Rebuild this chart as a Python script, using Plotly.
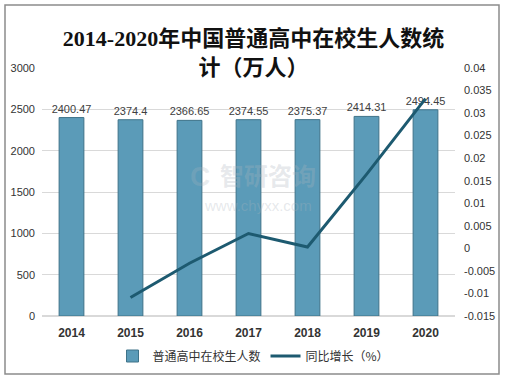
import plotly.graph_objects as go

years = ["2014", "2015", "2016", "2017", "2018", "2019", "2020"]
students = [2400.47, 2374.4, 2366.65, 2374.55, 2375.37, 2414.31, 2494.45]
growth_years = ["2015", "2016", "2017", "2018", "2019", "2020"]
growth = [-0.0109, -0.0033, 0.0033, 0.0003, 0.0164, 0.0332]
left_ticks = [0, 500, 1000, 1500, 2000, 2500, 3000]
right_ticks = [-0.015, -0.01, -0.005, 0, 0.005, 0.01, 0.015, 0.02, 0.025, 0.03, 0.035, 0.04]
right_tick_text = ["-0.015", "-0.01", "-0.005", "0", "0.005", "0.01", "0.015", "0.02", "0.025", "0.03", "0.035", "0.04"]

W, H = 507, 385
ml, mr, mt, mb = 42, 52, 68, 69
pw, ph = W - ml - mr, H - mt - mb

def px(x):
    return (x - ml) / pw

def py(y):
    return (H - mb - y) / ph

fig = go.Figure()
fig.add_trace(go.Bar(
    x=years, y=students, name="普通高中在校生人数",
    marker=dict(color="#5b9bb8", line=dict(color="#3f7389", width=1)),
    width=0.42,
    text=[f"{v:g}" for v in students], textposition="outside", constraintext="none",
    textfont=dict(size=11, color="#404040", family="Liberation Sans, Arial"),
    cliponaxis=False,
))
fig.add_trace(go.Scatter(
    x=growth_years, y=growth, name="同比增长（%）", yaxis="y2",
    mode="lines", line=dict(color="#1d5a70", width=3),
))

fig.update_layout(
    width=W, height=H,
    margin=dict(l=ml, r=mr, t=mt, b=mb, autoexpand=False),
    paper_bgcolor="white", plot_bgcolor="white",
    title=dict(text="<b>2014-2020年中国普通高中在校生人数统<br>计（万人）</b>",
               x=0.5, xref="container", xanchor="center", y=1 - 46 / H, yref="container", yanchor="middle",
               font=dict(size=22, color="#111", family="Liberation Serif, Noto Sans CJK SC")),
    xaxis=dict(showgrid=False, showline=False, ticks="", ticklabelstandoff=8,
               tickfont=dict(size=12, color="#333", family="Liberation Sans, Arial", weight="bold")),
    yaxis=dict(range=[0, 3000], tickvals=left_ticks, showgrid=True, gridcolor="#d9d9d9",
               zeroline=True, zerolinecolor="#d9d9d9", showline=False, ticks="", ticklabelstandoff=6,
               tickfont=dict(size=11, color="#333", family="Liberation Sans, Arial")),
    yaxis2=dict(range=[-0.015, 0.04], overlaying="y", side="right", ticklabelstandoff=8,
                tickvals=right_ticks, ticktext=right_tick_text, showgrid=False, zeroline=False,
                ticks="", tickfont=dict(size=11, color="#333", family="Liberation Sans, Arial")),
    legend=dict(orientation="h", x=0.5, xref="container", xanchor="center",
                y=(H - 356) / H, yref="container", yanchor="middle",
                font=dict(size=12, color="#333", family="Noto Sans CJK SC"),
                itemwidth=30, tracegroupgap=0),
    bargap=0.58,
    showlegend=True,
)

fig.add_shape(type="rect", xref="paper", yref="paper",
              x0=px(5), x1=px(499), y0=py(374), y1=py(5),
              line=dict(color="#8c8c8c", width=1.5), layer="below")

fig.add_annotation(x=px(268), y=py(174), xref="paper", yref="paper", text="<b>智研咨询</b>",
                   showarrow=False, font=dict(size=24, color="rgba(170,180,190,0.3)", family="Noto Sans CJK SC"))
fig.add_annotation(x=px(258), y=py(205), xref="paper", yref="paper", text="www.chyxx.com",
                   showarrow=False, font=dict(size=15, color="rgba(170,180,190,0.3)", family="Liberation Sans"))
fig.add_annotation(x=px(200), y=py(176), xref="paper", yref="paper", text="<b>C</b>",
                   showarrow=False, font=dict(size=28, color="rgba(170,180,190,0.25)", family="Liberation Sans"))

fig.write_html("out.html", config={"displayModeBar": False},
               post_script="document.body.style.margin='0';document.body.style.overflow='hidden';")
